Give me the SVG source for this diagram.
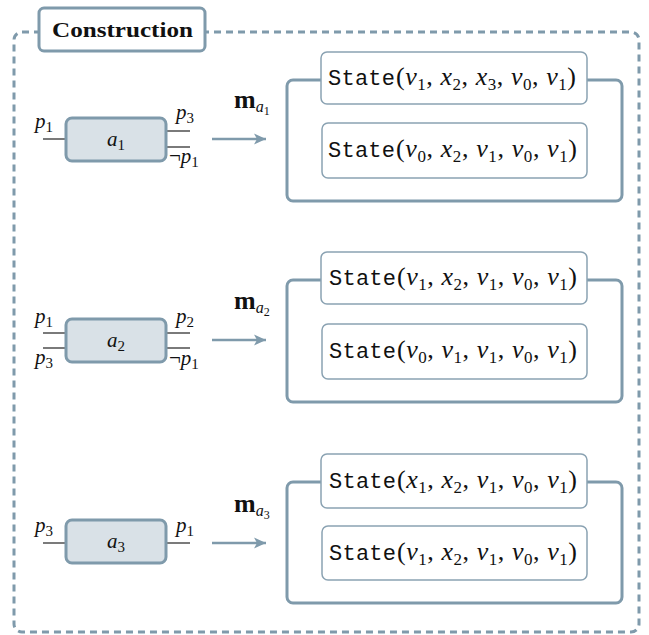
<svg xmlns="http://www.w3.org/2000/svg" width="649" height="635" viewBox="0 0 649 635">
  <defs>
    <style>
      .frame { fill: none; stroke: #7f9aab; stroke-width: 3; stroke-dasharray: 7 5; }
      .title-box { fill: #ffffff; stroke: #7f9aab; stroke-width: 3; }
      .title { font-family: "Liberation Serif", "Times New Roman", "DejaVu Serif", serif; font-weight: bold; font-size: 21px; fill: #111; }
      .agent { fill: #d9e1e7; stroke: #7f9aab; stroke-width: 3; }
      .port { stroke: #222; stroke-width: 1.2; fill: none; }
      .group-box { fill: none; stroke: #7f9aab; stroke-width: 3; }
      .state-box { fill: #ffffff; stroke: #8aa2b2; stroke-width: 1.5; }
      .arrow { stroke: #7f9aab; stroke-width: 2.5; fill: none; }
      .math { font-family: "Liberation Serif", "Times New Roman", "DejaVu Serif", serif; font-size: 21px; fill: #111; }
      .it { font-style: italic; }
      .sb { font-size: 15px; font-style: normal; }
      .si { font-size: 16px; font-style: italic; }
      .ssb { font-size: 12px; font-style: normal; }
      .bf { font-weight: bold; font-size: 26px; }
      .mono { font-family: "Liberation Mono", "Courier New", "DejaVu Sans Mono", monospace; font-size: 22px; fill: #111; }
      .st { font-family: "Liberation Serif", "Times New Roman", "DejaVu Serif", serif; font-size: 26px; fill: #111; }
      .st .sb { font-size: 17px; }
    </style>
    <marker id="head" markerUnits="userSpaceOnUse" markerWidth="14" markerHeight="12" refX="12" refY="6" orient="auto">
      <path d="M0,0.5 L12,6 L0,11.5 L3,6 Z" fill="#7f9aab"/>
    </marker>
  </defs>

  <!-- dashed frame with its title -->
  <rect class="frame" x="14" y="32" width="625" height="600" rx="8"/>
  <g id="title">
    <rect class="title-box" x="39" y="8" width="166" height="43" rx="5"/>
    <text class="title" x="52" y="37" textLength="141" lengthAdjust="spacingAndGlyphs">Construction</text>
  </g>

  <!-- arrows from each agent to its state group -->
  <g id="connectors">
    <line class="arrow" x1="212" y1="139" x2="266" y2="139" marker-end="url(#head)"/>
    <line class="arrow" x1="212" y1="340" x2="266" y2="340" marker-end="url(#head)"/>
    <line class="arrow" x1="212" y1="543" x2="266" y2="543" marker-end="url(#head)"/>
    <text class="math" x="234" y="108"><tspan class="bf">m</tspan><tspan class="si" dy="4">a</tspan><tspan class="ssb" dy="3">1</tspan></text>
    <text class="math" x="234" y="309"><tspan class="bf">m</tspan><tspan class="si" dy="4">a</tspan><tspan class="ssb" dy="3">2</tspan></text>
    <text class="math" x="234" y="512"><tspan class="bf">m</tspan><tspan class="si" dy="4">a</tspan><tspan class="ssb" dy="3">3</tspan></text>
  </g>

  <!-- agent a1 -->
  <g id="a1">
    <line class="port" x1="43" y1="139" x2="66" y2="139"/>
    <line class="port" x1="166" y1="131" x2="190" y2="131"/>
    <line class="port" x1="166" y1="147" x2="190" y2="147"/>
    <rect class="agent" x="66" y="118" width="100" height="43" rx="6"/>
    <text class="math" x="116" y="146" text-anchor="middle"><tspan class="it">a</tspan><tspan class="sb" dy="4">1</tspan></text>
    <text class="math" x="35" y="128"><tspan class="it">p</tspan><tspan class="sb" dy="4">1</tspan></text>
    <text class="math" x="176" y="119"><tspan class="it">p</tspan><tspan class="sb" dy="4">3</tspan></text>
    <text class="math" x="169" y="163">¬<tspan class="it">p</tspan><tspan class="sb" dy="4">1</tspan></text>
  </g>

  <!-- agent a2 -->
  <g id="a2">
    <line class="port" x1="43" y1="333" x2="66" y2="333"/>
    <line class="port" x1="43" y1="348" x2="66" y2="348"/>
    <line class="port" x1="166" y1="333" x2="190" y2="333"/>
    <line class="port" x1="166" y1="348" x2="190" y2="348"/>
    <rect class="agent" x="66" y="319" width="100" height="43" rx="6"/>
    <text class="math" x="116" y="347" text-anchor="middle"><tspan class="it">a</tspan><tspan class="sb" dy="4">2</tspan></text>
    <text class="math" x="35" y="323"><tspan class="it">p</tspan><tspan class="sb" dy="4">1</tspan></text>
    <text class="math" x="35" y="364"><tspan class="it">p</tspan><tspan class="sb" dy="4">3</tspan></text>
    <text class="math" x="176" y="323"><tspan class="it">p</tspan><tspan class="sb" dy="4">2</tspan></text>
    <text class="math" x="169" y="365">¬<tspan class="it">p</tspan><tspan class="sb" dy="4">1</tspan></text>
  </g>

  <!-- agent a3 -->
  <g id="a3">
    <line class="port" x1="43" y1="543" x2="66" y2="543"/>
    <line class="port" x1="166" y1="543" x2="190" y2="543"/>
    <rect class="agent" x="66" y="520" width="100" height="43" rx="6"/>
    <text class="math" x="116" y="548" text-anchor="middle"><tspan class="it">a</tspan><tspan class="sb" dy="4">3</tspan></text>
    <text class="math" x="35" y="532"><tspan class="it">p</tspan><tspan class="sb" dy="4">3</tspan></text>
    <text class="math" x="176" y="532"><tspan class="it">p</tspan><tspan class="sb" dy="4">1</tspan></text>
  </g>

  <!-- states produced by a1 -->
  <g id="m-a1">
    <rect class="group-box" x="287" y="80" width="335" height="121" rx="6"/>
    <g id="m-a1-s1">
      <rect class="state-box" x="321" y="52" width="266" height="52" rx="6"/>
      <text class="mono" x="328" y="85" textLength="67">State</text>
      <text class="st" x="396" y="85" textLength="180">(<tspan class="it">v</tspan><tspan class="sb" dy="5">1</tspan><tspan dy="-5">, </tspan><tspan class="it">x</tspan><tspan class="sb" dy="5">2</tspan><tspan dy="-5">, </tspan><tspan class="it">x</tspan><tspan class="sb" dy="5">3</tspan><tspan dy="-5">, </tspan><tspan class="it">v</tspan><tspan class="sb" dy="5">0</tspan><tspan dy="-5">, </tspan><tspan class="it">v</tspan><tspan class="sb" dy="5">1</tspan><tspan dy="-5">)</tspan></text>
    </g>
    <g id="m-a1-s2">
      <rect class="state-box" x="322" y="123" width="265" height="55" rx="6"/>
      <text class="mono" x="328" y="157" textLength="67">State</text>
      <text class="st" x="396" y="157" textLength="181">(<tspan class="it">v</tspan><tspan class="sb" dy="5">0</tspan><tspan dy="-5">, </tspan><tspan class="it">x</tspan><tspan class="sb" dy="5">2</tspan><tspan dy="-5">, </tspan><tspan class="it">v</tspan><tspan class="sb" dy="5">1</tspan><tspan dy="-5">, </tspan><tspan class="it">v</tspan><tspan class="sb" dy="5">0</tspan><tspan dy="-5">, </tspan><tspan class="it">v</tspan><tspan class="sb" dy="5">1</tspan><tspan dy="-5">)</tspan></text>
    </g>
  </g>

  <!-- states produced by a2 -->
  <g id="m-a2">
    <rect class="group-box" x="287" y="280" width="335" height="122" rx="6"/>
    <g id="m-a2-s1">
      <rect class="state-box" x="321" y="252" width="266" height="52" rx="6"/>
      <text class="mono" x="329" y="285" textLength="67">State</text>
      <text class="st" x="397" y="285" textLength="180">(<tspan class="it">v</tspan><tspan class="sb" dy="5">1</tspan><tspan dy="-5">, </tspan><tspan class="it">x</tspan><tspan class="sb" dy="5">2</tspan><tspan dy="-5">, </tspan><tspan class="it">v</tspan><tspan class="sb" dy="5">1</tspan><tspan dy="-5">, </tspan><tspan class="it">v</tspan><tspan class="sb" dy="5">0</tspan><tspan dy="-5">, </tspan><tspan class="it">v</tspan><tspan class="sb" dy="5">1</tspan><tspan dy="-5">)</tspan></text>
    </g>
    <g id="m-a2-s2">
      <rect class="state-box" x="322" y="324" width="265" height="55" rx="6"/>
      <text class="mono" x="329" y="358" textLength="67">State</text>
      <text class="st" x="397" y="358" textLength="180">(<tspan class="it">v</tspan><tspan class="sb" dy="5">0</tspan><tspan dy="-5">, </tspan><tspan class="it">v</tspan><tspan class="sb" dy="5">1</tspan><tspan dy="-5">, </tspan><tspan class="it">v</tspan><tspan class="sb" dy="5">1</tspan><tspan dy="-5">, </tspan><tspan class="it">v</tspan><tspan class="sb" dy="5">0</tspan><tspan dy="-5">, </tspan><tspan class="it">v</tspan><tspan class="sb" dy="5">1</tspan><tspan dy="-5">)</tspan></text>
    </g>
  </g>

  <!-- states produced by a3 -->
  <g id="m-a3">
    <rect class="group-box" x="287" y="482" width="335" height="121" rx="6"/>
    <g id="m-a3-s1">
      <rect class="state-box" x="321" y="454" width="266" height="54" rx="6"/>
      <text class="mono" x="329" y="488" textLength="67">State</text>
      <text class="st" x="397" y="488" textLength="180">(<tspan class="it">x</tspan><tspan class="sb" dy="5">1</tspan><tspan dy="-5">, </tspan><tspan class="it">x</tspan><tspan class="sb" dy="5">2</tspan><tspan dy="-5">, </tspan><tspan class="it">v</tspan><tspan class="sb" dy="5">1</tspan><tspan dy="-5">, </tspan><tspan class="it">v</tspan><tspan class="sb" dy="5">0</tspan><tspan dy="-5">, </tspan><tspan class="it">v</tspan><tspan class="sb" dy="5">1</tspan><tspan dy="-5">)</tspan></text>
    </g>
    <g id="m-a3-s2">
      <rect class="state-box" x="322" y="526" width="265" height="54" rx="6"/>
      <text class="mono" x="329" y="560" textLength="67">State</text>
      <text class="st" x="397" y="560" textLength="180">(<tspan class="it">v</tspan><tspan class="sb" dy="5">1</tspan><tspan dy="-5">, </tspan><tspan class="it">x</tspan><tspan class="sb" dy="5">2</tspan><tspan dy="-5">, </tspan><tspan class="it">v</tspan><tspan class="sb" dy="5">1</tspan><tspan dy="-5">, </tspan><tspan class="it">v</tspan><tspan class="sb" dy="5">0</tspan><tspan dy="-5">, </tspan><tspan class="it">v</tspan><tspan class="sb" dy="5">1</tspan><tspan dy="-5">)</tspan></text>
    </g>
  </g>
</svg>
